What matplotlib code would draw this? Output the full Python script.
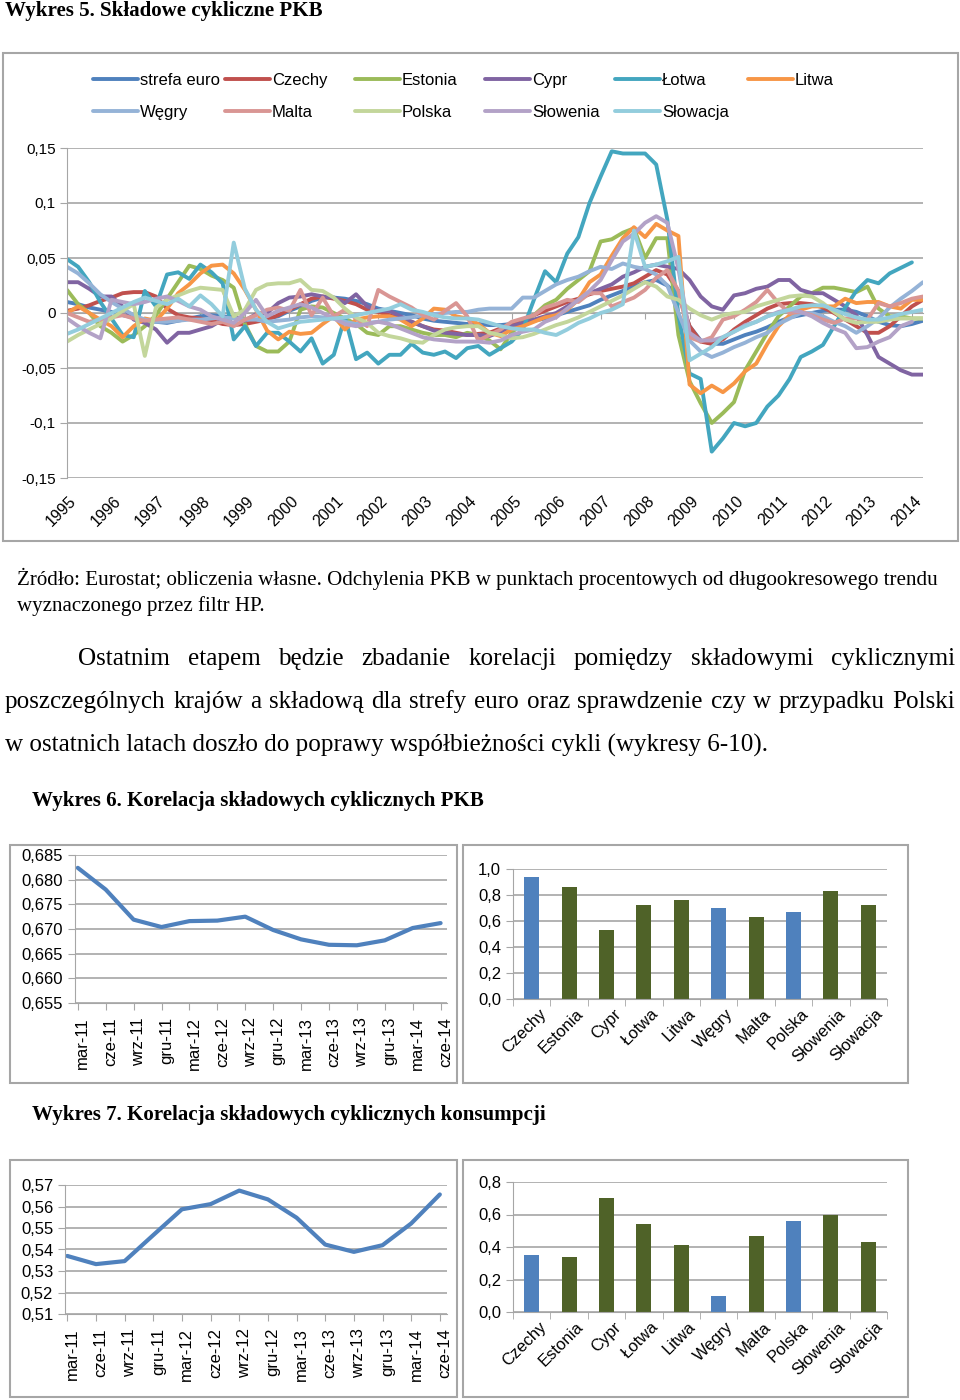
import numpy as np
import matplotlib
matplotlib.use("Agg")
import matplotlib.pyplot as plt
from matplotlib.patches import Rectangle
from matplotlib.transforms import ScaledTranslation

plt.rcParams['font.family'] = ['Liberation Sans', 'DejaVu Sans']

# ---- Wykres 5: skladowe cykliczne PKB, kwartalnie od 1995 Q1 ----
kraje = ['strefa euro', 'Czechy', 'Estonia', 'Cypr', 'Łotwa', 'Litwa',
         'Węgry', 'Malta', 'Polska', 'Słowenia', 'Słowacja']
kolory = ['#4F81BD', '#C0504D', '#9BBB59', '#8064A2', '#43A6BF', '#F79646',
          '#95B3D7', '#D99694', '#C3D69B', '#B3A2C7', '#93CDDD']

strefa_euro = [0.010, 0.008, 0.005, 0.003, 0.001, -0.002, -0.004, -0.007,
               -0.008, -0.009, -0.007, -0.005, -0.003, -0.002, -0.003, -0.004,
               -0.006, -0.006, -0.005, -0.003, 0.002, 0.006, 0.011, 0.014,
               0.014, 0.013, 0.011, 0.008, 0.004, 0.002, 0.000, -0.002,
               -0.005, -0.007, -0.008, -0.009, -0.010, -0.010, -0.011, -0.011,
               -0.010, -0.009, -0.007, -0.005, -0.002, 0.001, 0.004, 0.007,
               0.012, 0.016, 0.020, 0.024, 0.028, 0.030, 0.025, 0.015,
               -0.012, -0.025, -0.028, -0.028, -0.024, -0.020, -0.017, -0.013,
               -0.008, -0.004, -0.002, 0.000, 0.002, 0.003, 0.003, 0.001,
               -0.003, -0.008, -0.011, -0.012, -0.010, -0.007]
czechy = [0.002, 0.004, 0.007, 0.011, 0.014, 0.018, 0.019, 0.019,
          0.015, 0.004, -0.002, -0.004, -0.005, -0.007, -0.010, -0.011,
          -0.010, -0.008, -0.006, -0.002, 0.003, 0.008, 0.013, 0.015,
          0.013, 0.011, 0.008, 0.003, 0.001, -0.002, -0.005, -0.008,
          -0.012, -0.015, -0.016, -0.018, -0.020, -0.019, -0.018, -0.014,
          -0.010, -0.006, -0.002, 0.002, 0.006, 0.010, 0.013, 0.017,
          0.020, 0.022, 0.024, 0.027, 0.033, 0.039, 0.035, 0.020,
          -0.012, -0.026, -0.028, -0.024, -0.015, -0.008, -0.002, 0.004,
          0.008, 0.009, 0.009, 0.008, 0.005, 0.000, -0.006, -0.012,
          -0.018, -0.018, -0.012, -0.003, 0.006, 0.012]
estonia = [0.021, 0.008, 0.000, -0.012, -0.018, -0.026, -0.020, -0.012,
           -0.002, 0.013, 0.028, 0.043, 0.040, 0.034, 0.030, 0.023,
           -0.010, -0.030, -0.035, -0.035, -0.026, 0.003, 0.006, 0.005,
           0.000, -0.005, -0.010, -0.018, -0.020, -0.012, -0.012, -0.015,
           -0.018, -0.020, -0.020, -0.022, -0.018, -0.020, -0.025, -0.033,
           -0.018, -0.008, -0.002, 0.007, 0.012, 0.022, 0.030, 0.038,
           0.065, 0.067, 0.073, 0.077, 0.050, 0.068, 0.068, -0.020,
           -0.062, -0.082, -0.100, -0.091, -0.081, -0.052, -0.035, -0.018,
           -0.003, 0.006, 0.015, 0.018, 0.023, 0.023, 0.021, 0.019,
           0.024, 0.004, -0.003, -0.003, -0.005, -0.005]
cypr = [0.028, 0.028, 0.022, 0.015, 0.015, 0.006, -0.006, -0.009,
        -0.015, -0.027, -0.018, -0.018, -0.015, -0.012, -0.006, -0.003,
        -0.007, -0.001, 0.000, 0.009, 0.014, 0.015, 0.017, 0.015,
        0.014, 0.009, 0.017, 0.006, 0.002, 0.002, -0.003, -0.008,
        -0.012, -0.016, -0.018, -0.019, -0.020, -0.020, -0.021, -0.017,
        -0.012, -0.009, -0.006, -0.003, 0.000, 0.006, 0.012, 0.018,
        0.022, 0.026, 0.033, 0.037, 0.042, 0.044, 0.042, 0.040,
        0.030, 0.015, 0.006, 0.003, 0.016, 0.018, 0.022, 0.024,
        0.030, 0.030, 0.021, 0.018, 0.018, 0.012, 0.006, -0.002,
        -0.020, -0.040, -0.046, -0.052, -0.056, -0.056]
lotwa = [0.049, 0.042, 0.028, 0.010, -0.005, -0.020, -0.022, 0.020,
         0.006, 0.035, 0.037, 0.031, 0.044, 0.037, 0.027, -0.024,
         -0.012, -0.030, -0.018, -0.018, -0.026, -0.035, -0.023, -0.046,
         -0.038, -0.004, -0.042, -0.036, -0.046, -0.038, -0.038, -0.028,
         -0.036, -0.038, -0.035, -0.041, -0.032, -0.030, -0.038, -0.032,
         -0.026, -0.015, 0.012, 0.038, 0.028, 0.054, 0.069, 0.100,
         0.124, 0.147, 0.145, 0.145, 0.145, 0.135, 0.085, -0.002,
         -0.055, -0.060, -0.126, -0.114, -0.100, -0.103, -0.100, -0.085,
         -0.075, -0.060, -0.040, -0.035, -0.029, -0.012, 0.005, 0.020,
         0.030, 0.027, 0.036, 0.041, 0.046]
litwa = [0.000, 0.006, 0.000, -0.006, -0.012, -0.022, -0.012, -0.005,
         -0.007, 0.004, 0.018, 0.026, 0.036, 0.043, 0.044, 0.036,
         0.021, 0.003, -0.016, -0.024, -0.017, -0.019, -0.018, -0.010,
         -0.003, -0.015, -0.006, -0.004, -0.003, -0.003, -0.006, -0.012,
         -0.005, 0.004, 0.003, -0.003, -0.005, -0.010, -0.018, -0.021,
         -0.015, -0.012, -0.008, -0.004, -0.002, 0.003, 0.012, 0.028,
         0.035, 0.052, 0.068, 0.078, 0.069, 0.081, 0.075, 0.070,
         -0.065, -0.073, -0.066, -0.072, -0.064, -0.053, -0.046, -0.028,
         -0.012, -0.002, 0.003, 0.006, 0.006, 0.006, 0.013, 0.009,
         0.010, 0.010, 0.006, 0.004, 0.012, 0.012]
wegry = [0.042, 0.036, 0.027, 0.017, 0.010, 0.004, -0.002, -0.006,
         -0.008, -0.008, -0.007, -0.006, -0.006, -0.005, -0.004, -0.005,
         -0.006, -0.006, -0.008, -0.007, -0.006, -0.004, -0.003, -0.004,
         -0.005, -0.008, -0.010, -0.009, -0.008, -0.006, -0.005, -0.004,
         -0.002, -0.001, 0.000, 0.001, 0.001, 0.003, 0.004, 0.004,
         0.004, 0.014, 0.014, 0.020, 0.026, 0.030, 0.033, 0.038,
         0.042, 0.040, 0.045, 0.042, 0.040, 0.035, 0.025, 0.000,
         -0.025, -0.035, -0.040, -0.036, -0.031, -0.027, -0.022, -0.018,
         -0.010, -0.005, 0.000, 0.000, -0.003, -0.008, -0.012, -0.018,
         -0.012, -0.005, 0.005, 0.013, 0.020, 0.028]
malta = [0.000, -0.004, -0.008, -0.006, -0.004, -0.002, -0.005, -0.007,
         -0.006, -0.005, -0.004, -0.006, -0.008, -0.010, -0.008, -0.012,
         -0.006, -0.002, 0.003, 0.005, 0.002, 0.021, -0.002, 0.014,
         -0.003, 0.003, -0.005, -0.012, 0.021, 0.015, 0.010, 0.005,
         -0.002, -0.006, 0.002, 0.009, -0.003, -0.025, -0.020, -0.015,
         -0.008, -0.005, -0.002, 0.005, 0.008, 0.012, 0.010, 0.018,
         0.018, 0.006, 0.010, 0.014, 0.021, 0.032, 0.039, 0.020,
         -0.022, -0.026, -0.022, -0.006, -0.003, 0.003, 0.010, 0.021,
         0.009, 0.000, 0.001, -0.002, -0.006, -0.009, -0.005, -0.005,
         -0.006, 0.009, 0.006, 0.009, 0.013, 0.015]
polska = [-0.026, -0.020, -0.015, -0.010, -0.005, 0.002, 0.008, -0.039,
          0.005, 0.012, 0.016, 0.020, 0.023, 0.022, 0.021, -0.003,
          0.003, 0.021, 0.026, 0.027, 0.027, 0.030, 0.021, 0.020,
          0.014, 0.004, -0.004, -0.009, -0.018, -0.021, -0.023, -0.026,
          -0.027, -0.020, -0.015, -0.013, -0.012, -0.012, -0.018, -0.020,
          -0.023, -0.022, -0.019, -0.015, -0.011, -0.008, -0.004, 0.001,
          0.006, 0.011, 0.016, 0.022, 0.028, 0.024, 0.015, 0.012,
          0.004, -0.002, -0.006, -0.002, 0.000, 0.001, 0.006, 0.009,
          0.012, 0.015, 0.016, 0.015, 0.009, 0.001, -0.006, -0.009,
          -0.008, -0.008, -0.006, -0.005, -0.005, -0.005]
slowenia = [-0.005, -0.012, -0.018, -0.023, 0.012, 0.010, 0.008, 0.010,
            0.013, 0.015, 0.011, 0.006, 0.003, -0.003, -0.006, -0.009,
            0.000, 0.012, -0.003, 0.002, 0.005, 0.008, 0.005, 0.000,
            -0.005, -0.010, -0.012, -0.010, -0.008, -0.010, -0.014, -0.018,
            -0.022, -0.024, -0.025, -0.026, -0.026, -0.026, -0.027, -0.025,
            -0.020, -0.017, -0.015, -0.008, -0.004, 0.004, 0.012, 0.020,
            0.030, 0.048, 0.065, 0.072, 0.082, 0.088, 0.082, 0.040,
            -0.018, -0.025, -0.025, -0.022, -0.017, -0.011, -0.008, -0.003,
            0.001, 0.003, 0.001, -0.003, -0.009, -0.014, -0.018, -0.032,
            -0.031, -0.026, -0.022, -0.012, -0.008]
slowacja = [-0.019, -0.015, -0.010, -0.005, 0.000, 0.005, 0.010, 0.014,
            0.011, 0.008, 0.013, 0.006, 0.016, 0.008, -0.003, 0.064,
            0.022, 0.003, -0.008, -0.014, -0.011, -0.008, -0.007, -0.006,
            -0.005, -0.004, -0.002, 0.000, 0.002, 0.004, 0.008, 0.003,
            0.001, -0.002, -0.004, -0.005, -0.005, -0.006, -0.009, -0.012,
            -0.014, -0.015, -0.015, -0.018, -0.020, -0.015, -0.009, -0.005,
            0.000, 0.003, 0.008, 0.075, 0.042, 0.044, 0.047, 0.051,
            -0.043, -0.037, -0.031, -0.022, -0.017, -0.012, -0.008, -0.003,
            0.000, 0.003, 0.006, 0.007, 0.007, 0.003, -0.001, -0.004,
            -0.006, -0.006, -0.004, -0.001, 0.001, 0.003]
serie = [strefa_euro, czechy, estonia, cypr, lotwa, litwa,
         wegry, malta, polska, slowenia, slowacja]
lata = list(range(1995, 2015))
poziomy = [-0.15, -0.1, -0.05, 0, 0.05, 0.1, 0.15]

# ---- Wykresy 6 i 7: korelacje ----
miesiace = ['mar-11', 'cze-11', 'wrz-11', 'gru-11', 'mar-12', 'cze-12', 'wrz-12',
            'gru-12', 'mar-13', 'cze-13', 'wrz-13', 'gru-13', 'mar-14', 'cze-14']
kor_pkb_euro = [0.6824, 0.6780, 0.6719, 0.6704, 0.6716, 0.6717, 0.6725,
                0.6698, 0.6679, 0.6668, 0.6667, 0.6677, 0.6702, 0.6712]
kor_kons_euro = [0.5370, 0.5332, 0.5346, 0.5467, 0.5587, 0.5611, 0.5674,
                 0.5633, 0.5548, 0.5423, 0.5389, 0.5420, 0.5521, 0.5656]
panstwa = ['Czechy', 'Estonia', 'Cypr', 'Łotwa', 'Litwa', 'Węgry', 'Malta',
           'Polska', 'Słowenia', 'Słowacja']
w_strefie = [False, True, True, True, True, False, True, False, True, True]
kor_pkb = [0.94, 0.86, 0.53, 0.72, 0.76, 0.70, 0.63, 0.67, 0.83, 0.72]
kor_kons = [0.35, 0.34, 0.70, 0.54, 0.41, 0.10, 0.47, 0.56, 0.60, 0.43]

W, H = 960, 1400
SZARY = '#A6A6A6'
SERIF = 'Liberation Serif'

fig = plt.figure(figsize=(W / 100, H / 100), dpi=100)
renderer = fig.canvas.get_renderer()


def box(l, t, r, b):
    return [l / W, 1 - b / H, (r - l) / W, (b - t) / H]


def ramka(l, t, r, b):
    fig.add_artist(Rectangle((l / W, 1 - b / H), (r - l) / W, (b - t) / H,
                             transform=fig.transFigure, fill=False,
                             ec=SZARY, lw=1.5))


def przecinek(v, dec=None):
    s = f'{v:g}' if dec is None else f'{v:.{dec}f}'
    return s.replace('.', ',')


def przesun(labels, dx):
    for lab in labels:
        lab.set_transform(lab.get_transform() +
                          ScaledTranslation(dx / 100, 0, fig.dpi_scale_trans))


def dopasuj(tekst, x0, x1, y, bold=False):
    t = fig.text(x0 / W, 1 - y / H, tekst, fontsize=12, family=SERIF,
                 va='center', fontweight='bold' if bold else 'normal')
    w = t.get_window_extent(renderer).width
    t.set_fontsize(12 * (x1 - x0) / w)
    return t


def wyjustuj(linia, x0, x1, y, size):
    teksty = [fig.text(0, 1 - y / H, s, fontsize=size, family=SERIF, va='center')
              for s in linia.split()]
    szer = [t.get_window_extent(renderer).width for t in teksty]
    luka = (x1 - x0 - sum(szer)) / (len(teksty) - 1)
    x = x0
    for t, w in zip(teksty, szer):
        t.set_x(x / W)
        x += w + luka


# ---------------- Wykres 5 ----------------
ramka(3, 53, 958, 541)
ax = fig.add_axes(box(67, 148, 923, 478))
linie = []
for nazwa, vals, kolor in zip(kraje, serie, kolory):
    x = 1995 + np.arange(len(vals)) / 4
    ln, = ax.plot(x, vals, color=kolor, lw=2.8, solid_joinstyle='round',
                  solid_capstyle='round', label=nazwa)
    linie.append(ln)
ax.set_xlim(1995, 1995 + 77 / 4)
ax.set_ylim(-0.15, 0.15)
ax.set_yticks(poziomy, labels=[przecinek(v) for v in poziomy])
ax.grid(axis='y', color=SZARY, lw=1.2)
ax.set_axisbelow(True)
for s in ['top', 'right', 'bottom']:
    ax.spines[s].set_visible(False)
ax.spines['left'].set_color(SZARY)
ax.tick_params(axis='y', length=5, color=SZARY, labelsize=11, pad=3)
ax.set_xticks(lata, labels=[str(r) for r in lata], rotation=45, ha='right',
              va='center', rotation_mode='anchor', fontsize=11.5)
ax.tick_params(axis='x', length=0, pad=15)
przesun(ax.get_xticklabels(), 7)

os0 = ax.secondary_xaxis(0.5)
os0.set_alignment('bottom')
os0.set_xticks(lata, labels=[])
os0.tick_params(length=4, color=SZARY)
for s in os0.spines.values():
    s.set_color(SZARY)

kolumny_x = [93, 225, 355, 485, 615, 748]
for c, xk in enumerate(kolumny_x):
    idx = [c] + ([c + 6] if c + 6 < len(kraje) else [])
    fig.legend([linie[k] for k in idx], [kraje[k] for k in idx],
               loc='upper left', bbox_to_anchor=(xk / W, 1 - 73 / H),
               frameon=False, borderpad=0, borderaxespad=0, handlelength=2.7,
               handletextpad=0.12, labelspacing=1.0, fontsize=12)

# ---------------- teksty ----------------
dopasuj('Wykres 5. Składowe cykliczne PKB', 5, 322, 11, bold=True)
zr = dopasuj('Żródło: Eurostat; obliczenia własne. Odchylenia PKB w punktach '
             'procentowych od długookresowego trendu', 17, 935, 579)
fig.text(17 / W, 1 - 606 / H, 'wyznaczonego przez filtr HP.',
         fontsize=zr.get_fontsize(), family=SERIF, va='center')
t3 = dopasuj('w ostatnich latach doszło do poprawy współbieżności cykli '
             '(wykresy 6-10).', 5, 770, 745)
rozm = t3.get_fontsize()
wyjustuj('Ostatnim etapem będzie zbadanie korelacji pomiędzy składowymi '
         'cyklicznymi', 78, 955, 659, rozm)
wyjustuj('poszczególnych krajów a składową dla strefy euro oraz sprawdzenie '
         'czy w przypadku Polski', 5, 955, 702, rozm)
dopasuj('Wykres 6. Korelacja składowych cyklicznych PKB', 32, 484, 801, bold=True)
dopasuj('Wykres 7. Korelacja składowych cyklicznych konsumpcji', 32, 546, 1115,
        bold=True)


# ---------------- wykresy 6 i 7 ----------------
def wykres_liniowy(rect, wartosci, ylim, yticks, dec, xlim):
    a = fig.add_axes(box(*rect))
    a.plot(range(len(miesiace)), wartosci, color='#4F81BD', lw=3,
           solid_joinstyle='round', solid_capstyle='round')
    a.set_xlim(*xlim)
    a.set_ylim(*ylim)
    a.set_yticks(yticks, labels=[przecinek(v, dec) for v in yticks])
    a.set_xticks(range(len(miesiace)), labels=miesiace, rotation=90)
    a.grid(axis='y', color=SZARY, lw=1.2)
    a.set_axisbelow(True)
    for s in ['top', 'right']:
        a.spines[s].set_visible(False)
    for s in ['left', 'bottom']:
        a.spines[s].set_color(SZARY)
    a.tick_params(length=5, color=SZARY, labelsize=12)
    a.tick_params(axis='x', pad=5)
    przesun(a.get_xticklabels(), 5)
    return a


def wykres_slupkowy(rect, wartosci, ymax, yticks):
    a = fig.add_axes(box(*rect))
    kol = ['#4F6228' if e else '#4F81BD' for e in w_strefie]
    a.bar(range(len(panstwa)), wartosci, width=0.4, color=kol)
    a.set_xlim(-0.5, len(panstwa) - 0.5)
    a.set_ylim(0, ymax)
    a.set_yticks(yticks, labels=[przecinek(v, 1) for v in yticks])
    a.set_xticks(range(len(panstwa)), labels=panstwa, rotation=45, ha='right',
                 va='center', rotation_mode='anchor')
    a.set_xticks(np.arange(-0.5, len(panstwa), 1), minor=True)
    a.grid(axis='y', color=SZARY, lw=1.2)
    a.set_axisbelow(True)
    for s in ['top', 'right']:
        a.spines[s].set_visible(False)
    for s in ['left', 'bottom']:
        a.spines[s].set_color(SZARY)
    a.tick_params(axis='y', length=5, color=SZARY, labelsize=12)
    a.tick_params(axis='x', which='major', length=0, labelsize=12, pad=9)
    a.tick_params(axis='x', which='minor', length=5, color=SZARY)
    przesun(a.get_xticklabels(), 12)
    return a


ramka(10, 845, 457, 1083)
ramka(463, 845, 908, 1083)
ramka(10, 1160, 457, 1397)
ramka(463, 1160, 908, 1397)

wykres_liniowy((75, 855, 447, 1003), kor_pkb_euro, (0.655, 0.685),
               np.linspace(0.655, 0.685, 7), 3, (-0.1, 13.23))
wykres_slupkowy((513, 869, 887, 999), kor_pkb, 1.0, np.linspace(0, 1.0, 6))
wykres_liniowy((65, 1185, 447, 1314), kor_kons_euro, (0.51, 0.57),
               np.linspace(0.51, 0.57, 7), 2, (-0.08, 13.25))
wykres_slupkowy((513, 1182, 887, 1312), kor_kons, 0.8, np.linspace(0, 0.8, 5))

fig.savefig('out.png', dpi=100)
